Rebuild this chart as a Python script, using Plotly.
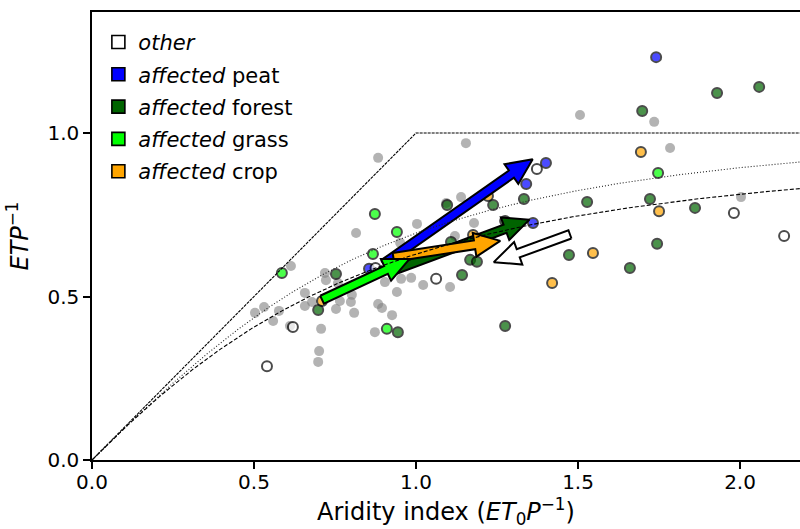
import numpy as np
import plotly.graph_objects as go

# ---------------- data ----------------
gray_x = [0.883, 1.154, 1.506, 1.735, 1.784, 2.003, 0.815, 1.003, 0.951, 0.614,
          0.719, 0.722, 0.759, 0.904, 0.954, 0.985, 1.022, 0.941, 0.657, 0.679,
          0.657, 0.765, 0.802, 0.799, 0.753, 0.809, 0.883, 0.895, 0.926, 0.503,
          0.531, 0.577, 0.559, 0.611, 0.707, 0.873, 0.701, 0.698, 1.139, 1.093,
          1.179, 1.120, 1.105]
gray_y = [0.924, 0.969, 1.055, 1.034, 0.954, 0.804, 0.694, 0.722, 0.664, 0.593,
          0.572, 0.550, 0.541, 0.544, 0.554, 0.557, 0.535, 0.514, 0.511, 0.483,
          0.471, 0.486, 0.505, 0.483, 0.462, 0.450, 0.477, 0.465, 0.443, 0.450,
          0.468, 0.456, 0.425, 0.410, 0.401, 0.391, 0.333, 0.300, 0.804, 0.786,
          0.725, 0.685, 0.529]

peat_x = [0.855, 1.340, 1.401, 1.361, 1.741]
peat_y = [0.585, 0.844, 0.908, 0.725, 1.232]

forest_x = [0.753, 0.698, 0.944, 1.096, 1.238, 1.333, 1.275, 1.108, 1.167, 1.188,
            1.142, 1.275, 1.528, 1.472, 1.929, 2.059, 1.698, 1.722, 1.861, 1.744,
            1.660]
forest_y = [0.569, 0.459, 0.391, 0.780, 0.780, 0.798, 0.731, 0.667, 0.612, 0.606,
            0.566, 0.410, 0.789, 0.627, 1.122, 1.141, 1.067, 0.798, 0.771, 0.661,
            0.587]

grass_x = [0.586, 0.873, 0.941, 0.867, 0.910, 1.747]
grass_y = [0.572, 0.752, 0.697, 0.630, 0.401, 0.878]

crop_x = [0.710, 1.222, 1.176, 1.420, 1.546, 1.694, 1.750]
crop_y = [0.486, 0.807, 0.688, 0.541, 0.633, 0.942, 0.761]

other_x = [0.875, 1.062, 0.620, 0.540, 1.373, 1.981, 2.136]
other_y = [0.587, 0.554, 0.407, 0.287, 0.890, 0.755, 0.685]

# mean shift arrows (start -> end) per class
arrow_names = ["other", "peat", "forest", "crop", "grass"]
arrow_x0 = [1.475, 0.900, 0.930, 0.930, 0.710]
arrow_y0 = [0.690, 0.600, 0.580, 0.620, 0.490]
arrow_x1 = [1.240, 1.360, 1.350, 1.260, 0.980]
arrow_y1 = [0.605, 0.920, 0.735, 0.670, 0.615]

# Budyko limits
limit_x = [0.0, 1.0, 2.2]
limit_y = [0.0, 1.0, 1.0]

legend_labels = ["<i>other</i>", "<i>affected</i> peat", "<i>affected</i> forest",
                 "<i>affected</i> grass", "<i>affected</i> crop"]

# ---------------- styling ----------------
W, H = 800, 529
ML, MR, MT, MB = 92, 0, 12, 69
XR = [0, 2.185]
YR = [0, 1.37]
PW, PH = W - ML - MR, H - MT - MB
SX = PW / (XR[1] - XR[0])
SY = PH / (YR[1] - YR[0])

base = {"other": "#ffffff", "peat": "#0000ff", "forest": "#006400",
        "grass": "#00ff00", "crop": "#ffa500"}
FONT = "DejaVu Sans"

fig = go.Figure()

# legend-only entries (square symbols)
for lab, key in zip(legend_labels, ["other", "peat", "forest", "grass", "crop"]):
    fig.add_trace(go.Scatter(
        x=[None], y=[None], mode="markers", name=lab, legendgroup=key,
        marker=dict(symbol="square", size=13, color=base[key],
                    line=dict(color="black", width=1.6))))

# gray points (all sites)
fig.add_trace(go.Scatter(x=gray_x, y=gray_y, mode="markers", showlegend=False,
                         marker=dict(size=10, color="gray", opacity=0.6,
                                     line=dict(width=0))))


def pts(xs, ys, key):
    fig.add_trace(go.Scatter(
        x=xs, y=ys, mode="markers", showlegend=False,
        marker=dict(size=10, color=base[key], opacity=0.7,
                    line=dict(color="black", width=2))))


pts(peat_x, peat_y, "peat")
pts(forest_x, forest_y, "forest")
pts(grass_x, grass_y, "grass")
pts(crop_x, crop_y, "crop")
pts(other_x, other_y, "other")

# arrows as filled polygons computed in pixel space
SHAFT = 4.4
HEADW = 12.0
HEADL = 26.0
for name, x0, y0, x1, y1 in zip(arrow_names, arrow_x0, arrow_y0, arrow_x1, arrow_y1):
    p0 = np.array([x0 * SX, y0 * SY])
    p1 = np.array([x1 * SX, y1 * SY])
    d = p1 - p0
    L = np.hypot(*d)
    u = d / L
    v = np.array([-u[1], u[0]])
    b = p1 - u * HEADL
    poly = [p0 + v * SHAFT, b + v * SHAFT, b + v * HEADW, p1,
            b - v * HEADW, b - v * SHAFT, p0 - v * SHAFT, p0 + v * SHAFT]
    px = [q[0] / SX for q in poly]
    py = [q[1] / SY for q in poly]
    fig.add_trace(go.Scatter(x=px, y=py, mode="lines", fill="toself",
                             fillcolor=base[name], showlegend=False,
                             line=dict(color="black", width=2), hoverinfo="skip"))

# curves on top
xc = np.linspace(0.0005, 2.2, 400)
budyko = np.sqrt(xc * np.tanh(1 / xc) * (1 - np.exp(-xc)))
w = 2.2
fu = 1 + xc - (1 + xc ** w) ** (1 / w)
fig.add_trace(go.Scatter(x=limit_x, y=limit_y, mode="lines", showlegend=False,
                         line=dict(color="black", width=1.1, dash="3px,1px")))
fig.add_trace(go.Scatter(x=xc, y=budyko, mode="lines", showlegend=False,
                         line=dict(color="#222222", width=1.1, dash="1px,2px")))
fig.add_trace(go.Scatter(x=xc, y=fu, mode="lines", showlegend=False,
                         line=dict(color="black", width=1.1, dash="4px,2px")))

fig.update_layout(
    width=W, height=H, margin=dict(l=ML, r=MR, t=MT, b=MB, autoexpand=False),
    plot_bgcolor="white", paper_bgcolor="white",
    font=dict(family=FONT, size=20, color="black"),
    showlegend=True,
    legend=dict(x=0.009, y=0.978, xanchor="left", yanchor="top",
                bgcolor="rgba(0,0,0,0)", font=dict(size=21, family=FONT),
                tracegroupgap=2, itemsizing="trace"),
    xaxis=dict(range=XR, showgrid=False, zeroline=False, showline=True,
               linecolor="black", linewidth=1.5, mirror=True,
               ticks="outside", ticklen=7, tickwidth=1.5, tickcolor="black",
               ticklabelstandoff=-4,
               tickvals=[0, 0.5, 1.0, 1.5, 2.0], tickformat=".1f",
               title=dict(text="Aridity index (<i>ET</i><sub>0</sub><i>P</i><sup>\u22121</sup>)",
                          standoff=20)),
    yaxis=dict(range=YR, showgrid=False, zeroline=False, showline=True,
               linecolor="black", linewidth=1.5,
               ticks="outside", ticklen=7, tickwidth=1.5, tickcolor="black",
               tickvals=[0, 0.5, 1.0], tickformat=".1f",
               title=dict(text="<i>ETP</i><sup>\u22121</sup>", standoff=12)),
)

fig.write_html("out.html")
